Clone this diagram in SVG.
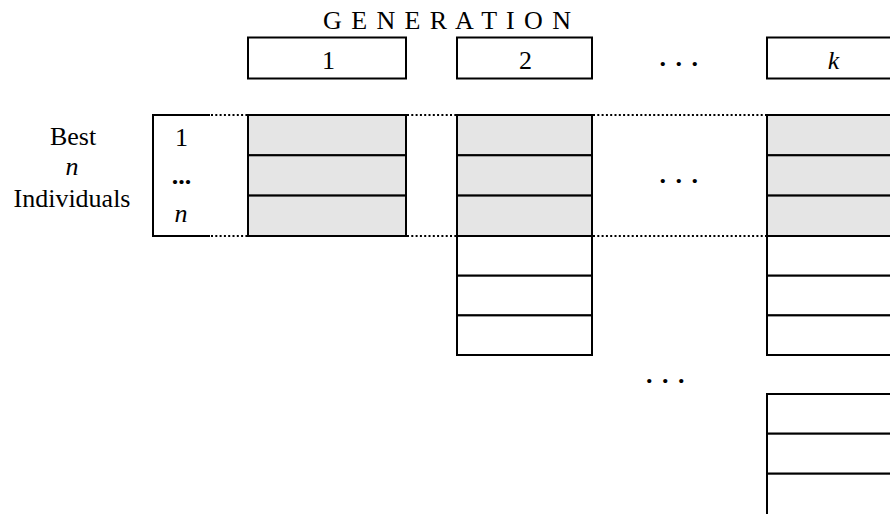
<svg xmlns="http://www.w3.org/2000/svg" width="890" height="514" viewBox="0 0 890 514">
<style>
.t{font-family:"Liberation Serif","Times New Roman",serif;font-size:26px;fill:#000}
.c{text-anchor:middle}
.i{font-style:italic}
.box{fill:#fff;stroke:#000;stroke-width:2}
.g{fill:#e5e5e5;stroke:#000;stroke-width:2}
.w{fill:#fff;stroke:#000;stroke-width:2}
.ln{stroke:#000;stroke-width:2;fill:none}
.dot{stroke:#000;stroke-width:2;stroke-dasharray:2 2.3;fill:none}
.dots{font-weight:bold;letter-spacing:1.5px}
</style>
<rect width="890" height="514" fill="#fff"/>
<text id="title" class="t" x="323" y="29" font-size="23" textLength="248" lengthAdjust="spacing">G E N E R A T I O N</text>

<g id="gen1"><rect class="box" x="248" y="37.5" width="158" height="41"/><text class="t c" x="328.5" y="68.5">1</text></g>
<g id="gen2"><rect class="box" x="457" y="37.5" width="135" height="41"/><text class="t c" x="525.5" y="68.5">2</text></g>
<g id="genDots"><text class="t c dots" x="679.5" y="65.5">. . .</text></g>
<g id="genk"><rect class="box" x="767" y="37.5" width="135" height="41"/><text class="t c i" x="833.5" y="69">k</text></g>

<g id="label">
<text class="t c" x="73" y="144.5">Best</text>
<text class="t c i" x="72" y="175">n</text>
<text class="t c" x="72" y="207">Individuals</text>
</g>

<g id="bestBox">
<path class="ln" d="M210,115 H153 V236 H210"/>
<text class="t c" x="181.5" y="146">1</text>
<text class="t c" x="181.5" y="183.5" font-weight="bold">...</text>
<text class="t c i" x="181" y="221.5">n</text>
</g>

<g id="col1">
<rect class="g" x="248" y="115" width="158" height="40.3"/>
<rect class="g" x="248" y="155.3" width="158" height="40.3"/>
<rect class="g" x="248" y="195.6" width="158" height="40.4"/>
</g>

<g id="col2">
<rect class="g" x="457" y="115" width="135" height="40.3"/>
<rect class="g" x="457" y="155.3" width="135" height="40.3"/>
<rect class="g" x="457" y="195.6" width="135" height="40.4"/>
<rect class="w" x="457" y="236" width="135" height="39.7"/>
<rect class="w" x="457" y="275.7" width="135" height="39.7"/>
<rect class="w" x="457" y="315.4" width="135" height="39.6"/>
</g>

<g id="midDots"><text class="t c dots" x="679.5" y="183">. . .</text></g>

<g id="colk">
<rect class="g" x="767" y="115" width="135" height="40.3"/>
<rect class="g" x="767" y="155.3" width="135" height="40.3"/>
<rect class="g" x="767" y="195.6" width="135" height="40.4"/>
<rect class="w" x="767" y="236" width="135" height="39.7"/>
<rect class="w" x="767" y="275.7" width="135" height="39.7"/>
<rect class="w" x="767" y="315.4" width="135" height="39.6"/>
</g>

<g id="lowDots"><text class="t c dots" x="666" y="383">. . .</text></g>

<g id="colk2">
<rect class="w" x="767" y="394" width="135" height="39.7"/>
<rect class="w" x="767" y="433.7" width="135" height="40"/>
<rect class="w" x="767" y="473.7" width="135" height="60"/>
</g>

<g id="connectors">
<path class="dot" d="M211,115 H248 M211,236 H248"/>
<path class="dot" d="M407,115 H457 M407,236 H457"/>
<path class="dot" d="M593,115 H767 M593,236 H767"/>
</g>
</svg>
